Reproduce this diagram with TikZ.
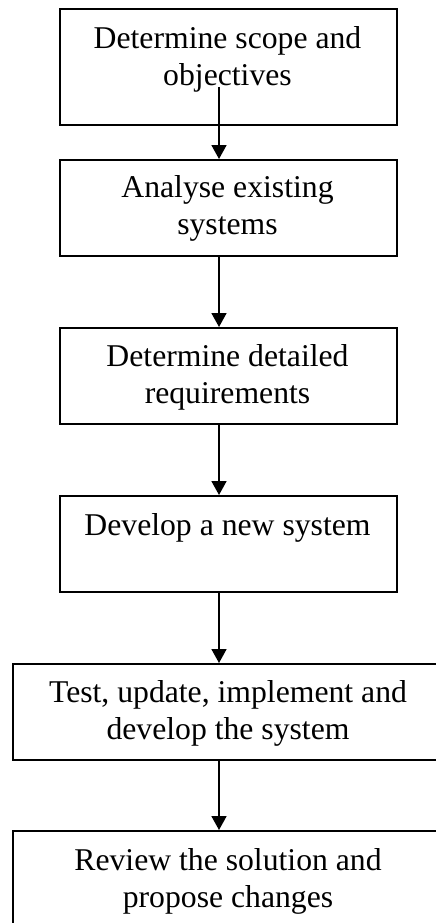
\documentclass[tikz,border=0pt]{standalone}
\usepackage{fontspec}
\setmainfont{Liberation Serif}
\usetikzlibrary{arrows.meta}
\begin{document}
\begin{tikzpicture}[x=1pt,y=-1pt,
  box/.style={draw,line width=1.8pt,rectangle,anchor=north west,inner sep=0pt},
  txt/.style={anchor=north,align=center,inner sep=0pt,font=\fontsize{31.7}{37.5}\selectfont},
  arr/.style={line width=1.8pt,-{Triangle[width=15pt,length=14pt]}}]
\clip (0,0) rectangle (436,923);
\useasboundingbox (0,0) rectangle (436,923);
\node[box,minimum width=337pt,minimum height=116pt] (b1) at (59,8) {};
\node[box,minimum width=337pt,minimum height=96pt] (b2) at (59,159) {};
\node[box,minimum width=337pt,minimum height=96pt] (b3) at (59,327) {};
\node[box,minimum width=337pt,minimum height=96pt] (b4) at (59,495) {};
\node[box,minimum width=432pt,minimum height=96pt] (b5) at (12,663) {};
\node[box,minimum width=432pt,minimum height=120pt] (b6) at (12,830) {};
\node[txt] (t1) at (227.5,21.75) {\strut Determine scope and\\\strut objectives};
\node[txt] (t2) at (227.5,170.75) {\strut Analyse existing\\\strut systems};
\node[txt] (t3) at (227.5,339.75) {\strut Determine detailed\\\strut requirements};
\node[txt] (t4) at (227.5,508.75) {\strut Develop a new system};
\node[txt] (t5) at (228,675.75) {\strut Test, update, implement and\\\strut develop the system};
\node[txt] (t6) at (228,843.75) {\strut Review the solution and\\\strut propose changes};
\coordinate (s1) at (219,87);
\coordinate (ax) at (219,0);
\draw[arr] (s1) -- (s1 |- b2.north);
\draw[arr] (ax |- b2.south) -- (ax |- b3.north);
\draw[arr] (ax |- b3.south) -- (ax |- b4.north);
\draw[arr] (ax |- b4.south) -- (ax |- b5.north);
\draw[arr] (ax |- b5.south) -- (ax |- b6.north);
\end{tikzpicture}
\end{document}
